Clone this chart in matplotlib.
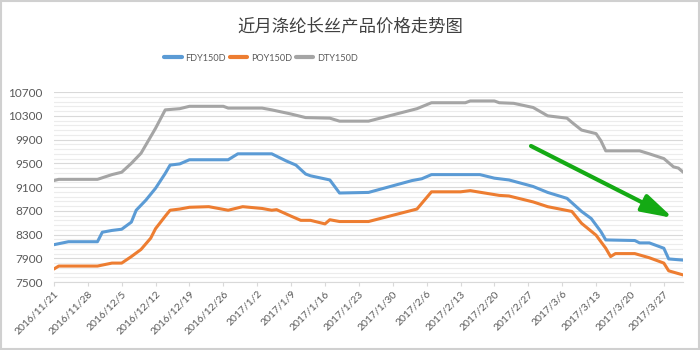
import datetime as dt

import matplotlib
matplotlib.use("Agg")
import matplotlib.dates as mdates
import matplotlib.pyplot as plt
import numpy as np
from matplotlib.patches import Rectangle
from matplotlib.ticker import FixedLocator, FuncFormatter


TITLE = "近月涤纶长丝产品价格走势图"
SERIES_NAMES = ["FDY150D", "POY150D", "DTY150D"]
SERIES_COLORS = ["#5B9BD5", "#ED7D31", "#A5A5A5"]

# FDY150D price points (yuan/ton)
FDY_DATES = [
    "2016-11-21", "2016-11-24", "2016-11-30", "2016-12-01", "2016-12-03",
    "2016-12-05", "2016-12-07", "2016-12-08", "2016-12-10", "2016-12-12",
    "2016-12-14", "2016-12-15", "2016-12-17", "2016-12-19", "2016-12-27",
    "2016-12-29", "2017-01-05", "2017-01-08", "2017-01-10", "2017-01-12",
    "2017-01-13", "2017-01-17", "2017-01-19", "2017-01-25", "2017-02-03",
    "2017-02-05", "2017-02-07", "2017-02-17", "2017-02-20", "2017-02-23",
    "2017-02-28", "2017-03-03", "2017-03-07", "2017-03-10", "2017-03-12",
    "2017-03-14", "2017-03-15", "2017-03-21", "2017-03-22", "2017-03-24",
    "2017-03-27", "2017-03-28", "2017-03-31",
]
FDY_VALUES = [
    8130, 8180, 8180, 8340, 8370,
    8390, 8510, 8710, 8880, 9080,
    9330, 9470, 9490, 9560, 9560,
    9660, 9660, 9540, 9470, 9320,
    9290, 9220, 9000, 9010, 9210,
    9240, 9310, 9310, 9250, 9220,
    9110, 9010, 8910, 8690, 8570,
    8350, 8210, 8200, 8160, 8160,
    8070, 7890, 7870,
]

# POY150D price points
POY_DATES = [
    "2016-11-21", "2016-11-22", "2016-11-30", "2016-12-03", "2016-12-05",
    "2016-12-07", "2016-12-09", "2016-12-11", "2016-12-12", "2016-12-14",
    "2016-12-15", "2016-12-17", "2016-12-19", "2016-12-23", "2016-12-27",
    "2016-12-30", "2017-01-03", "2017-01-05", "2017-01-06", "2017-01-09",
    "2017-01-11", "2017-01-13", "2017-01-16", "2017-01-17", "2017-01-19",
    "2017-01-25", "2017-02-04", "2017-02-07", "2017-02-13", "2017-02-15",
    "2017-02-18", "2017-02-21", "2017-02-23", "2017-02-28", "2017-03-03",
    "2017-03-08", "2017-03-10", "2017-03-13", "2017-03-15", "2017-03-16",
    "2017-03-17", "2017-03-21", "2017-03-24", "2017-03-27", "2017-03-28",
    "2017-03-31",
]
POY_VALUES = [
    7720, 7770, 7770, 7820, 7820,
    7930, 8050, 8240, 8400, 8610,
    8710, 8730, 8760, 8770, 8710,
    8770, 8740, 8710, 8720, 8610,
    8540, 8540, 8480, 8550, 8520,
    8520, 8730, 9020, 9020, 9040,
    9000, 8960, 8950, 8850, 8770,
    8690, 8490, 8290, 8070, 7930,
    7980, 7980, 7910, 7820, 7690,
    7620,
]

# DTY150D price points
DTY_DATES = [
    "2016-11-21", "2016-11-22", "2016-11-30", "2016-12-03", "2016-12-05",
    "2016-12-07", "2016-12-09", "2016-12-12", "2016-12-14", "2016-12-17",
    "2016-12-19", "2016-12-26", "2016-12-27", "2017-01-03", "2017-01-05",
    "2017-01-09", "2017-01-12", "2017-01-17", "2017-01-19", "2017-01-25",
    "2017-02-04", "2017-02-07", "2017-02-14", "2017-02-15", "2017-02-20",
    "2017-02-21", "2017-02-24", "2017-02-28", "2017-03-03", "2017-03-07",
    "2017-03-08", "2017-03-10", "2017-03-13", "2017-03-14", "2017-03-15",
    "2017-03-22", "2017-03-24", "2017-03-27", "2017-03-29", "2017-03-30",
    "2017-03-31",
]
DTY_VALUES = [
    9210, 9230, 9230, 9310, 9350,
    9500, 9670, 10090, 10400, 10420,
    10460, 10460, 10430, 10430, 10400,
    10330, 10270, 10260, 10210, 10210,
    10420, 10520, 10520, 10550, 10550,
    10520, 10510, 10440, 10300, 10260,
    10190, 10060, 10000, 9880, 9710,
    9710, 9660, 9580, 9440, 9420,
    9350,
]

Y_MIN, Y_MAX, Y_STEP = 7500, 10700, 400
X_START = dt.datetime(2016, 11, 21)
X_END = dt.datetime(2017, 3, 31)

TEXT_COLOR = "#595959"


def _to_dates(values):
    return [dt.datetime.strptime(v, "%Y-%m-%d") for v in values]


def _date_label(x, pos=None):
    d = mdates.num2date(x)
    return f"{d.year}/{d.month}/{d.day}"


fig = plt.figure(figsize=(7, 3.5), dpi=100)
ax = fig.add_axes([0.077, 0.194, 0.899, 0.543])

series = [
    (FDY_DATES, FDY_VALUES),
    (POY_DATES, POY_VALUES),
    (DTY_DATES, DTY_VALUES),
]
for (dates, values), name, color in zip(series, SERIES_NAMES, SERIES_COLORS):
    ax.plot(_to_dates(dates), values, color=color, linewidth=2.2,
            solid_joinstyle="round", solid_capstyle="round", label=name)

ax.set_ylim(Y_MIN, Y_MAX)
ax.set_xlim(X_START, X_END)
ax.yaxis.set_major_locator(FixedLocator(np.arange(Y_MIN, Y_MAX + 1, Y_STEP)))
ax.yaxis.set_minor_locator(FixedLocator(np.arange(Y_MIN, Y_MAX + 1, Y_STEP / 5)))
week_ticks = mdates.drange(X_START, X_END, dt.timedelta(days=7))
ax.set_xticks(week_ticks)
ax.xaxis.set_major_formatter(FuncFormatter(_date_label))

ax.grid(True, which="major", axis="y", color="#d9d9d9", linewidth=0.8)
ax.grid(True, which="minor", axis="y", color="#ececec", linewidth=0.8)
ax.set_axisbelow(True)

for side in ["top", "right", "left"]:
    ax.spines[side].set_visible(False)
ax.spines["bottom"].set_color("#d9d9d9")
ax.spines["bottom"].set_linewidth(0.8)

ax.tick_params(axis="y", which="both", length=0, pad=8, labelsize=8.5,
               labelcolor=TEXT_COLOR)
ax.tick_params(axis="x", which="major", length=3, color="#d9d9d9",
               labelsize=7.5, labelcolor=TEXT_COLOR, pad=2)
for label in ax.get_yticklabels():
    label.set_family("Lato")
for label in ax.get_xticklabels():
    label.set_family("Lato")
    label.set_rotation(45)
    label.set_ha("right")
    label.set_va("top")
    label.set_rotation_mode("anchor")

fig.text(0.5, 0.925, TITLE, ha="center", va="center", fontsize=12.5,
         color="#404040", family=["Noto Sans CJK SC", "DejaVu Sans"])

leg = fig.legend(loc="center", bbox_to_anchor=(0.373, 0.834), ncol=3,
                 frameon=False, handlelength=1.9,
                 handletextpad=0.4, columnspacing=0.4,
                 prop={"family": "Lato", "size": 6.6})
for text in leg.get_texts():
    text.set_color(TEXT_COLOR)
for line in leg.get_lines():
    line.set_linewidth(3)

# downward trend arrow
ax.annotate("", xy=(673, 132), xytext=(531, 204),
            xycoords="figure pixels", textcoords="figure pixels",
            arrowprops=dict(arrowstyle="-|>,head_length=1.1,head_width=0.32",
                            mutation_scale=17, color="#14aa14", lw=3,
                            shrinkA=0, shrinkB=0, capstyle="round"))

fig.patches.append(Rectangle((0.001, 0.003), 0.997, 0.994, transform=fig.transFigure,
                             fill=False, edgecolor="#d0d0d0", linewidth=1.5))

fig.savefig("out.png", dpi=100, facecolor="white")
